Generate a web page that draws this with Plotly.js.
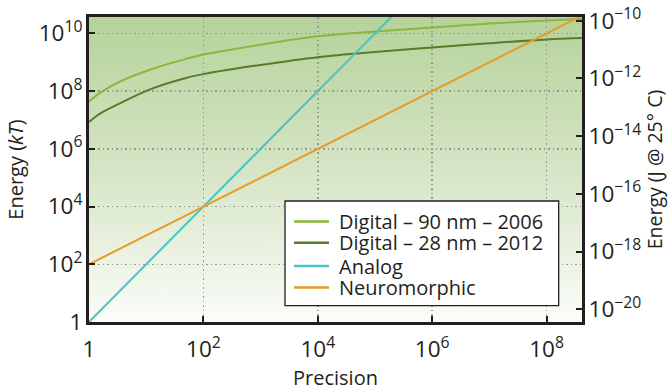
<!DOCTYPE html>
<html>
<head>
<meta charset="utf-8">
<script src="https://cdn.plot.ly/plotly-3.0.1.min.js"></script>
<style>html,body{margin:0;padding:0;background:#fff;}#chart{width:668px;height:391px;}</style>
</head>
<body>
<div id="chart"></div>
<script>
// Data
const digitalPrecision = [1, 1.58, 3.47, 12.3, 47.9, 100, 1000, 1e4, 1e5, 1e6, 1e7, 1e8, 4.17e8];
const digital90 = [4.37e7, 8.9e7, 2.14e8, 5.75e8, 1.29e9, 1.86e9, 4.07e9, 7.94e9, 1.17e10, 1.62e10, 2.19e10, 2.82e10, 3.24e10];
const digital28 = [8.51e6, 1.7e7, 3.80e7, 1.20e8, 2.82e8, 3.89e8, 8.13e8, 1.51e9, 2.29e9, 3.24e9, 4.57e9, 6.17e9, 6.92e9];
const analogPrecision = [1, 100, 1e4, 2e5];
const analogEnergy = [1, 1e4, 1e8, 4e10];
const neuroPrecision = [1, 100, 1e4, 4.17e8];
const neuroEnergy = [100, 1e4, 1e6, 4.17e10];
const seriesNames = ['Digital – 90 nm – 2006', 'Digital – 28 nm – 2012', 'Analog', 'Neuromorphic'];
const seriesColors = ['#8db63c', '#567d2c', '#4cc4c4', '#e99b25'];

const xRange = [0, 8.62];
const yRange = [0, 10.57];
const jouleOffset = -20.44; // log10 of kT in J (as drawn)

const ink = '#231f20';
const font = 'Open Sans, Lato, sans-serif';

// gradient background
const cv = document.createElement('canvas');
cv.width = 10; cv.height = 300;
const ctx = cv.getContext('2d');
const g = ctx.createLinearGradient(0, 0, 0, 300);
g.addColorStop(0, 'rgb(182,211,155)');
g.addColorStop(0.5, 'rgb(214,229,198)');
g.addColorStop(1, 'rgb(251,253,249)');
ctx.fillStyle = g; ctx.fillRect(0, 0, 10, 300);
const bg = cv.toDataURL();

const traces = [
  {x: digitalPrecision, y: digital90, name: seriesNames[0], mode: 'lines', line: {color: seriesColors[0], width: 2, shape: 'spline', smoothing: 1}},
  {x: digitalPrecision, y: digital28, name: seriesNames[1], mode: 'lines', line: {color: seriesColors[1], width: 2, shape: 'spline', smoothing: 1}},
  {x: analogPrecision, y: analogEnergy, name: seriesNames[2], mode: 'lines', line: {color: seriesColors[2], width: 2}},
  {x: neuroPrecision, y: neuroEnergy, name: seriesNames[3], mode: 'lines', line: {color: seriesColors[3], width: 2}},
  {x: [], y: [], yaxis: 'y2', mode: 'lines', showlegend: false, hoverinfo: 'skip'}
];

// custom legend (paper coordinates)
const legBox = {x0: 0.3976, x1: 0.9527, y0: 0.0534, y1: 0.3967};
const legRows = [0.3295, 0.2600, 0.1836, 0.1131];
const shapes = [{type: 'rect', xref: 'paper', yref: 'paper', x0: legBox.x0, x1: legBox.x1, y0: legBox.y0, y1: legBox.y1,
  fillcolor: '#fff', line: {color: ink, width: 1.3}, layer: 'above'}];
const annotations = [];
seriesNames.forEach((nm, i) => {
  shapes.push({type: 'line', xref: 'paper', yref: 'paper', x0: 0.4158, x1: 0.4868, y0: legRows[i], y1: legRows[i],
    line: {color: seriesColors[i], width: 2.5}, layer: 'above'});
  annotations.push({xref: 'paper', yref: 'paper', x: 0.5024, y: legRows[i], xanchor: 'left', yanchor: 'middle',
    text: nm, showarrow: false, font: {size: 20, color: ink}});
});

const gridStyle = {showgrid: true, gridcolor: '#999', gridwidth: 1.5, griddash: '1.5px,3px'};

const layout = {
  width: 668, height: 391,
  margin: {l: 89, r: 86, t: 17, b: 69},
  paper_bgcolor: '#fff',
  plot_bgcolor: 'rgba(0,0,0,0)',
  font: {family: font, color: ink, size: 18},
  showlegend: false,
  shapes: shapes,
  annotations: annotations,
  images: [{source: bg, xref: 'paper', yref: 'paper', x: 0, y: 1, sizex: 1, sizey: 1, sizing: 'stretch', layer: 'below'}],
  xaxis: Object.assign({
    type: 'log', range: xRange, dtick: 2, exponentformat: 'power',
    showline: true, linecolor: ink, linewidth: 3, mirror: true,
    ticks: 'inside', ticklen: 6, tickwidth: 2, tickcolor: ink,
    zeroline: false, ticklabelstandoff: 6,
    tickfont: {size: 18},
    title: {text: 'Precision', font: {size: 20}, standoff: 4}
  }, gridStyle),
  yaxis: Object.assign({
    type: 'log', range: yRange, dtick: 2, exponentformat: 'power',
    showline: true, linecolor: ink, linewidth: 3,
    ticks: 'inside', ticklen: 6, tickwidth: 2, tickcolor: ink,
    zeroline: false,
    tickfont: {size: 18},
    title: {text: 'Energy (<i>kT</i>)', font: {size: 20}, standoff: 10}
  }, gridStyle),
  yaxis2: {
    type: 'log', overlaying: 'y', side: 'right',
    range: [yRange[0] + jouleOffset, yRange[1] + jouleOffset], dtick: 2, exponentformat: 'power',
    showline: true, linecolor: ink, linewidth: 3,
    ticks: 'inside', ticklen: 6, tickwidth: 2, tickcolor: ink,
    showgrid: false, zeroline: false,
    tickfont: {size: 18},
    title: {text: 'Energy (J @ 25° C)', font: {size: 19.5}, standoff: 6}
  }
};

Plotly.newPlot('chart', traces, layout, {displayModeBar: false, staticPlot: true});
</script>
</body>
</html>
